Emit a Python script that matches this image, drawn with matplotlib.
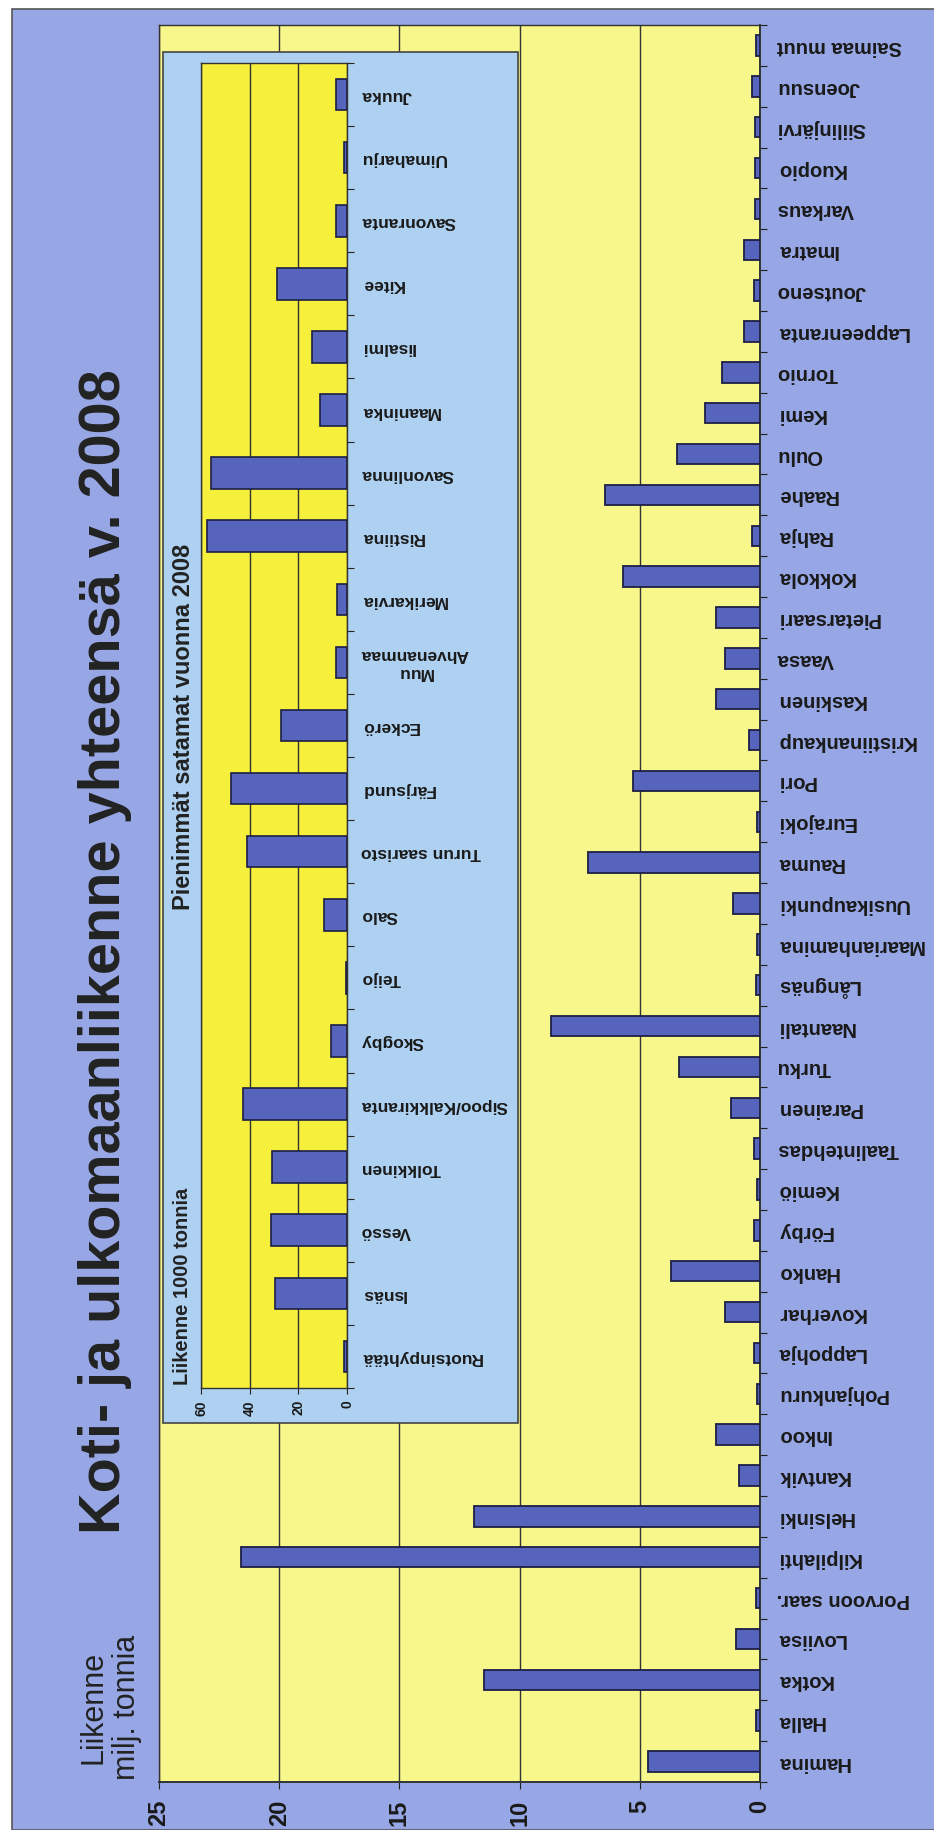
"""
Koti- ja ulkomaanliikenne yhteensä v. 2008 (kuva on käännetty 90 astetta)
"""
import numpy as np
import matplotlib.pyplot as plt
from matplotlib.patches import Rectangle

plt.rcParams["font.family"] = ["Liberation Sans", "DejaVu Sans"]

# --- Data: satamat, liikenne milj. tonnia (alhaalta ylös) ---
satamat = ["Hamina", "Halla", "Kotka", "Loviisa", "Porvoon saar.", "Kilpilahti",
           "Helsinki", "Kantvik", "Inkoo", "Pohjankuru", "Lappohja", "Koverhar",
           "Hanko", "Förby", "Kemiö", "Taalintehdas", "Parainen", "Turku",
           "Naantali", "Långnäs", "Maarianhamina", "Uusikaupunki", "Rauma",
           "Eurajoki", "Pori", "Kristiinankaup", "Kaskinen", "Vaasa",
           "Pietarsaari", "Kokkola", "Rahja", "Raahe", "Oulu", "Kemi", "Tornio",
           "Lappeenranta", "Joutseno", "Imatra", "Varkaus", "Kuopio",
           "Siilinjärvi", "Joensuu", "Saimaa muut"]
liikenne = [4.65, 0.15, 11.5, 1.0, 0.15, 21.6, 11.9, 0.86, 1.81, 0.14, 0.27, 1.44,
            3.7, 0.26, 0.11, 0.26, 1.19, 3.36, 8.7, 0.16, 0.14, 1.14, 7.15,
            0.14, 5.3, 0.45, 1.82, 1.45, 1.85, 5.71, 0.32, 6.44, 3.47, 2.29, 1.6,
            0.68, 0.27, 0.68, 0.2, 0.2, 0.2, 0.34, 0.16]
ticks_main = [0, 5, 10, 15, 20, 25]

# --- Pienimmät satamat, 1000 tonnia ---
pienet = ["Ruotsinpyhtää", "Isnäs", "Vessö", "Tolkkinen", "Sipoo/Kalkkiranta",
          "Skogby", "Teijo", "Salo", "Turun saaristo", "Färjsund", "Eckerö",
          "Muu\nAhvenanmaa", "Merikarvia", "Ristiina", "Savonlinna", "Maaninka",
          "Iisalmi", "Kitee", "Savonranta", "Uimaharju", "Juuka"]
pienet_liikenne = [1.2, 29.7, 31.3, 30.9, 42.6, 6.6, 0.5, 9.4, 41.1, 47.8, 27.2,
                   4.7, 4.1, 57.7, 56.0, 11.0, 14.4, 28.6, 4.5, 1.4, 4.5]
ticks_inset = [0, 20, 40, 60]

W, H = 934, 1831
BG = "#97a6e4"
YELLOW = "#f8f78c"
YELLOW2 = "#f6f03c"
LIGHTBLUE = "#aed1f1"
BAR = "#5665bb"
EDGE = "#1c1f45"
TXT = "#1a1a1a"


def box(x0, y0, x1, y1):
    """pikselit (ylhäältä) -> figure-koordinaatit [left, bottom, w, h]"""
    return [x0 / W, 1 - y1 / H, (x1 - x0) / W, (y1 - y0) / H]


fig = plt.figure(figsize=(W / 100, H / 100), dpi=100, facecolor="white")

# taustalaatikko
fig.patches.append(Rectangle((12 / W, 0), 1, 1 - 10 / H, transform=fig.transFigure,
                             facecolor=BG, edgecolor="#555", lw=1.2, zorder=-5))

# --- Pääkaavio ---
ax = fig.add_axes(box(159, 26, 760, 1783))
ax.set_facecolor(YELLOW)
y = np.arange(len(satamat))
ax.barh(y, liikenne, height=0.5, color=BAR, edgecolor=EDGE, lw=1.3, zorder=3)
ax.set_xlim(25, 0)
ax.set_ylim(-0.5, len(satamat) - 0.5)
ax.set_xticks(ticks_main)
ax.set_xticklabels([str(t) for t in ticks_main], rotation=90, fontsize=17,
                   fontweight="bold", color=TXT)
ax.tick_params(axis="x", length=5, pad=7, color="#222")
ax.xaxis.grid(True, color="#333", lw=1.0)
ax.set_axisbelow(True)
ax.yaxis.tick_right()
ax.set_yticks(np.arange(-0.5, len(satamat), 1))
ax.set_yticklabels([])
ax.tick_params(axis="y", which="major", length=5, color="#222")
ax.set_yticks(y, minor=True)
ax.set_yticklabels(satamat, minor=True, rotation=180, fontsize=14.5,
                   fontweight="bold", color=TXT, va="center")
ax.tick_params(axis="y", which="minor", length=0, pad=12)
for s in ax.spines.values():
    s.set_color("#333")
    s.set_linewidth(1.0)
ax.spines["right"].set_linewidth(1.4)
ax.spines["bottom"].set_linewidth(1.4)

# --- Upotettu kaavio ---
fig.patches.append(Rectangle((163 / W, 1 - 1424 / H), (518 - 163) / W, (1424 - 53) / H,
                             transform=fig.transFigure, facecolor=LIGHTBLUE,
                             edgecolor="#444", lw=1.2, zorder=1))
ax2 = fig.add_axes(box(201, 64, 347, 1389), zorder=2)
ax2.set_facecolor(YELLOW2)
y2 = np.arange(len(pienet))
ax2.barh(y2, pienet_liikenne, height=0.5, color=BAR, edgecolor=EDGE, lw=1.2, zorder=3)
ax2.set_xlim(60, 0)
ax2.set_ylim(-0.5, len(pienet) - 0.5)
ax2.set_xticks(ticks_inset)
ax2.set_xticklabels([str(t) for t in ticks_inset], rotation=90, fontsize=10,
                    fontweight="bold", color=TXT)
ax2.tick_params(axis="x", length=4, pad=4, color="#222")
ax2.xaxis.grid(True, color="#333", lw=1.0)
ax2.set_axisbelow(True)
ax2.yaxis.tick_right()
ax2.set_yticks(np.arange(-0.5, len(pienet), 1))
ax2.set_yticklabels([])
ax2.tick_params(axis="y", which="major", length=5, color="#222")
ax2.set_yticks(y2, minor=True)
ax2.set_yticklabels(pienet, minor=True, rotation=180, fontsize=12.5,
                    fontweight="bold", color=TXT, va="center", multialignment="center")
ax2.tick_params(axis="y", which="minor", length=0, pad=10)
for s in ax2.spines.values():
    s.set_color("#333")
    s.set_linewidth(1.0)

# --- Tekstit ---
fig.text(105 / W, 1 - 952 / H, "Koti- ja ulkomaanliikenne yhteensä v. 2008",
         rotation=90, fontsize=41.5, fontweight="bold", color="#222",
         ha="center", va="center")
fig.text(110 / W, 1 - 1780 / H, "Liikenne\nmilj. tonnia", rotation=90,
         fontsize=22, color="#222", ha="center", va="bottom", linespacing=1.15)
fig.text(183 / W, 1 - 727 / H, "Pienimmät satamat vuonna 2008", rotation=90,
         fontsize=17, fontweight="bold", color="#222", ha="center", va="center")
fig.text(182 / W, 1 - 1385 / H, "Liikenne 1000 tonnia", rotation=90,
         fontsize=14.5, fontweight="bold", color="#222", ha="center", va="bottom")

fig.savefig("out.png", dpi=100, facecolor="white")
